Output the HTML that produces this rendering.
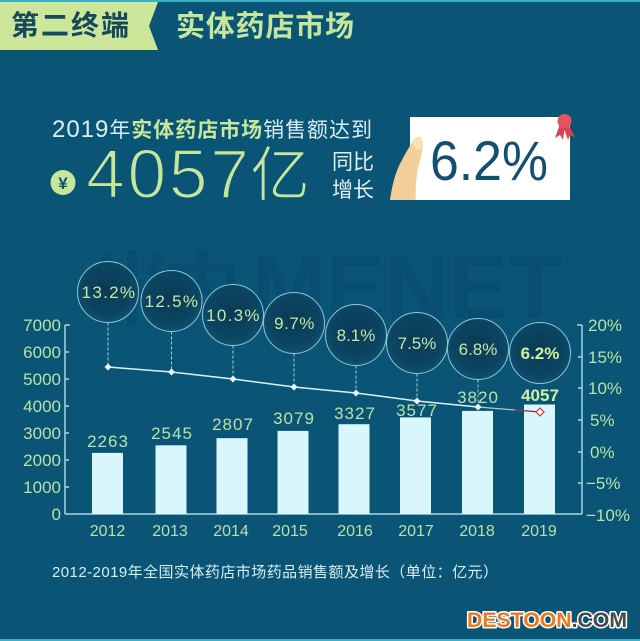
<!DOCTYPE html>
<html><head><meta charset="utf-8"><style>
html,body{margin:0;padding:0;background:#0a5575;}
svg{display:block;}
</style></head><body>
<svg width="640" height="641" viewBox="0 0 640 641" xmlns="http://www.w3.org/2000/svg" font-family="'Liberation Sans','Noto Sans CJK SC',sans-serif">
<defs>
<radialGradient id="cg" cx="50%" cy="45%" r="55%">
<stop offset="0" stop-color="#0a3a55"/>
<stop offset="0.75" stop-color="#0b4562"/>
<stop offset="1" stop-color="#0f526f"/>
</radialGradient>
</defs>
<rect x="0" y="0" width="640" height="641" fill="#0a5575"/>
<rect x="0" y="0" width="640" height="2" fill="#3fb0c4"/>
<rect x="0" y="639" width="640" height="2" fill="#3fb0c4"/>

<!-- header -->
<polygon points="0,2 158,2 149,26 158,50 0,50" fill="#cde79a"/>
<text x="11" y="35" font-size="28" font-weight="bold" fill="#17495b" textLength="118">第二终端</text>
<text x="176" y="36" font-size="29" font-weight="bold" fill="#c6e69b" textLength="178">实体药店市场</text>

<!-- watermark -->
<g fill="#07476a" opacity="0.45" font-weight="bold">
<text x="92" y="318" font-size="80" textLength="150">米内</text>
<text x="252" y="318" font-size="90" textLength="310" lengthAdjust="spacingAndGlyphs">MENET</text>
</g>

<!-- headline -->
<text x="52" y="137" fill="#d8eef2" textLength="320"><tspan font-size="24">2019</tspan><tspan font-size="21">年</tspan><tspan font-size="21" fill="#c6e69b" font-weight="bold">实体药店市场</tspan><tspan font-size="21">销售额达到</tspan></text>
<circle cx="63" cy="182.5" r="12.5" fill="#c6e69b"/>
<text x="63" y="189" font-size="17" font-weight="bold" fill="#0a5575" text-anchor="middle">¥</text>
<text x="86" y="198" font-size="70" fill="#c6e69b" stroke="#0a5575" stroke-width="2" textLength="163">4057</text>
<text x="250" y="196" font-size="60" fill="#c6e69b" stroke="#0a5575" stroke-width="1.5">亿</text>
<text x="332" y="169" font-size="21" fill="#e2f0f2">同比</text>
<text x="332" y="197" font-size="21" fill="#e2f0f2">增长</text>

<!-- card -->
<rect x="410" y="117" width="160" height="83" fill="#ffffff"/>
<text x="430" y="180" font-size="56" fill="#125070" textLength="118" lengthAdjust="spacingAndGlyphs">6.2%</text>
<!-- ribbon -->
<polygon points="560,124 555,138 560,135 563,140 565,126" fill="#d8434f"/>
<polygon points="568,124 575,137 570,135 568,140 563,126" fill="#d8434f"/>
<circle cx="564.5" cy="121" r="7" fill="#e5545e"/>
<!-- hand -->
<path d="M390,200 C392,185 396,170 402,160 C406,152 410,146 413,141 C415,137 420,135 422,139 C424,146 421,158 418,168 C416,180 415,192 416,200 Z" fill="#f2cf98"/>
<path d="M413,141 C416,136 421,136 422,140 C423,146 421,150 418,150 C415,149 413,146 413,141 Z" fill="#f8e2ba"/>

<!-- axes -->
<g stroke="#a6d6e4" stroke-width="1.5" fill="none">
<line x1="65" y1="325" x2="65" y2="514"/>
<line x1="65" y1="514" x2="582" y2="514"/>
<line x1="582" y1="325" x2="582" y2="514"/>
<line x1="65" y1="325" x2="70" y2="325"/>
<line x1="65" y1="352" x2="69" y2="352"/>
<line x1="65" y1="379" x2="69" y2="379"/>
<line x1="65" y1="406" x2="69" y2="406"/>
<line x1="65" y1="433" x2="69" y2="433"/>
<line x1="65" y1="460" x2="69" y2="460"/>
<line x1="65" y1="487" x2="69" y2="487"/>
<line x1="577" y1="325" x2="582" y2="325"/>
<line x1="578" y1="357" x2="582" y2="357"/>
<line x1="578" y1="388" x2="582" y2="388"/>
<line x1="578" y1="420" x2="582" y2="420"/>
<line x1="578" y1="452" x2="582" y2="452"/>
<line x1="578" y1="483" x2="582" y2="483"/>
</g>
<g font-size="17" fill="#b8e2a8" text-anchor="end">
<text x="61" y="331">7000</text>
<text x="61" y="358">6000</text>
<text x="61" y="385">5000</text>
<text x="61" y="412">4000</text>
<text x="61" y="439">3000</text>
<text x="61" y="466">2000</text>
<text x="61" y="493">1000</text>
<text x="61" y="520">0</text>
</g>
<g font-size="17" fill="#b8e2a8">
<text x="588" y="331">20%</text>
<text x="588" y="363">15%</text>
<text x="588" y="394">10%</text>
<text x="590" y="426">5%</text>
<text x="590" y="458">0%</text>
<text x="586" y="489">−5%</text>
<text x="586" y="521">−10%</text>
</g>
<g font-size="16" fill="#b8e2a8" text-anchor="middle">
<text x="107.5" y="536">2012</text>
<text x="170" y="536">2013</text>
<text x="231" y="536">2014</text>
<text x="290" y="536">2015</text>
<text x="355" y="536">2016</text>
<text x="416" y="536">2017</text>
<text x="477" y="536">2018</text>
<text x="539" y="536">2019</text>
</g>

<!-- bars -->
<g fill="#d8f6fb">
<rect x="92" y="452.9" width="31" height="61.1"/>
<rect x="155.5" y="445.3" width="31" height="68.7"/>
<rect x="216.5" y="438.2" width="31" height="75.8"/>
<rect x="277.5" y="430.9" width="31" height="83.1"/>
<rect x="338.5" y="424.2" width="31" height="89.8"/>
<rect x="400" y="417.4" width="31" height="96.6"/>
<rect x="462" y="410.9" width="31" height="103.1"/>
<rect x="524" y="404.5" width="31" height="109.5"/>
</g>
<g font-size="17" fill="#b8e2a8" text-anchor="middle" letter-spacing="1">
<text x="108" y="447">2263</text>
<text x="172" y="439">2545</text>
<text x="233" y="430">2807</text>
<text x="294" y="424">3079</text>
<text x="355" y="419">3327</text>
<text x="417" y="416">3577</text>
<text x="478" y="403">3820</text>
<text x="540" y="401" font-weight="bold" fill="#d2f0a0" letter-spacing="0">4057</text>
</g>

<!-- dashed connectors -->
<g stroke="#9fd0e0" stroke-width="1" stroke-dasharray="3,2">
<line x1="108" y1="322.5" x2="108" y2="367"/>
<line x1="171.5" y1="331.5" x2="171.5" y2="372"/>
<line x1="233" y1="345.5" x2="233" y2="379"/>
<line x1="294" y1="353.5" x2="294" y2="387"/>
<line x1="356" y1="365.5" x2="356" y2="393"/>
<line x1="417" y1="373.5" x2="417" y2="401"/>
<line x1="478" y1="379.5" x2="478" y2="407"/>
</g>

<!-- line -->
<polyline points="108,367 171.5,372 233,379 294,387 356,393 417,401 478,407" fill="none" stroke="#d8f2f8" stroke-width="1.5"/>
<line x1="478" y1="407" x2="540" y2="412" stroke="#b0c8d0" stroke-width="1.2"/>
<line x1="515" y1="410" x2="540" y2="412" stroke="#8a3040" stroke-width="1.2"/>
<g fill="#e8f8fc">
<polygon points="108,363.5 111.5,367 108,370.5 104.5,367"/>
<polygon points="171.5,368.5 175,372 171.5,375.5 168,372"/>
<polygon points="233,375.5 236.5,379 233,382.5 229.5,379"/>
<polygon points="294,383.5 297.5,387 294,390.5 290.5,387"/>
<polygon points="356,389.5 359.5,393 356,396.5 352.5,393"/>
<polygon points="417,397.5 420.5,401 417,404.5 413.5,401"/>
<polygon points="478,403.5 481.5,407 478,410.5 474.5,407"/>
</g>
<polygon points="540,408 544,412 540,416 536,412" fill="#ffffff" stroke="#d8434f" stroke-width="1.3"/>

<!-- circles -->
<g fill="url(#cg)" stroke="#8ec6d6" stroke-width="1">
<circle cx="108" cy="292" r="30.5"/>
<circle cx="171.5" cy="301" r="30.5"/>
<circle cx="233" cy="315" r="30.5"/>
<circle cx="294" cy="323" r="30.5"/>
<circle cx="356" cy="335" r="30.5"/>
<circle cx="417" cy="343" r="30.5"/>
<circle cx="478" cy="349" r="30.5"/>
<circle cx="540" cy="353" r="30.5"/>
</g>
<g font-size="17" fill="#c4e8a2" text-anchor="middle">
<text x="109" y="298" letter-spacing="1.3">13.2%</text>
<text x="172" y="307" letter-spacing="1.3">12.5%</text>
<text x="233.5" y="321" letter-spacing="1.3">10.3%</text>
<text x="294.5" y="329" letter-spacing="0.5">9.7%</text>
<text x="356" y="341">8.1%</text>
<text x="417" y="349">7.5%</text>
<text x="478" y="355">6.8%</text>
<text x="540" y="359" font-weight="bold" fill="#d2f0a0">6.2%</text>
</g>

<!-- caption -->
<text x="52" y="577" font-size="15" fill="#d8eef2" textLength="446">2012-2019年全国实体药店市场药品销售额及增长（单位：亿元）</text>

<!-- logo -->
<text x="467" y="627" font-size="21" font-weight="bold" textLength="160" lengthAdjust="spacingAndGlyphs" stroke="#ffffff" stroke-width="3" paint-order="stroke" stroke-linejoin="round"><tspan fill="#f0781c">DESTOON</tspan><tspan fill="#4a4a4a">.COM</tspan></text>
</svg>
</body></html>
